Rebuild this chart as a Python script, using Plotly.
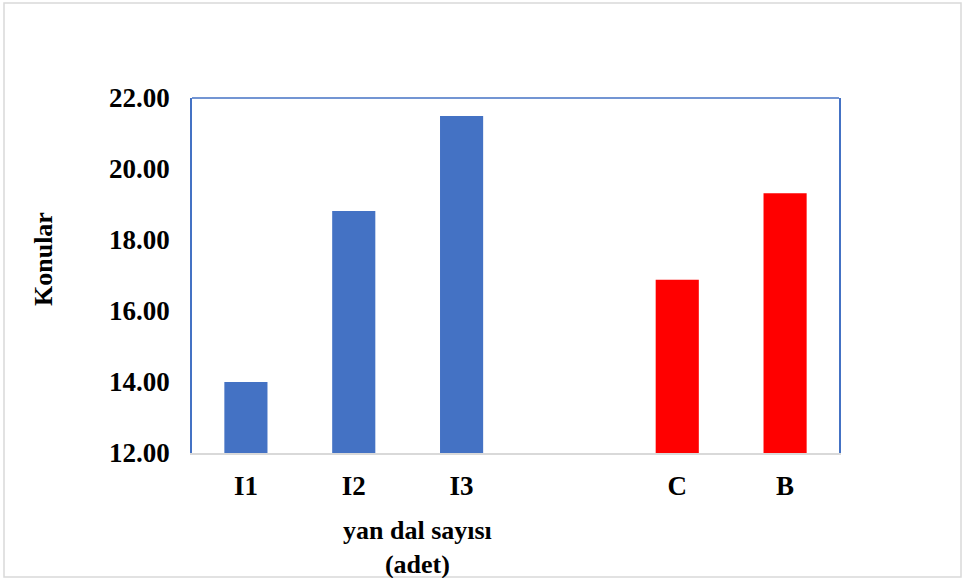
import plotly.graph_objects as go

# Category order along the x axis (one empty slot separates the two groups)
category_order = ["I1", "I2", "I3", " ", "C", "B"]

# Branch-count treatments
treat_labels = ["I1", "I2", "I3"]
treat_values = [14.00, 18.82, 21.49]

# Reference groups
ref_labels = ["C", "B"]
ref_values = [16.88, 19.32]

y_ticks = [12, 14, 16, 18, 20, 22]

W, H = 964, 578
ML, MR, MT, MB = 192, 125, 98, 125
PW, PH = W - ML - MR, H - MT - MB

BLUE = "#4472C4"
RED = "#FF0000"
FONT = "Liberation Serif"
FS = 27

fig = go.Figure()
fig.add_trace(go.Bar(x=treat_labels, y=treat_values, marker_color=BLUE,
                     marker_line_width=0, width=0.4, hoverinfo="x+y"))
fig.add_trace(go.Bar(x=ref_labels, y=ref_values, marker_color=RED,
                     marker_line_width=0, width=0.4, hoverinfo="x+y"))


def px_x(v):
    return (v - ML) / PW


def px_y(v):
    return 1 - (v - MT) / PH


fig.update_layout(
    width=W, height=H,
    margin=dict(l=ML, r=MR, t=MT, b=MB),
    paper_bgcolor="white", plot_bgcolor="white",
    barmode="overlay",
    showlegend=False,
    font=dict(family=FONT, color="black"),
    xaxis=dict(
        type="category", categoryorder="array", categoryarray=category_order,
        range=[-0.5, 5.5],
        showgrid=False, zeroline=False,
        showline=True, linecolor="#D9D9D9", linewidth=2,
        ticks="", ticklabelstandoff=8,
        tickfont=dict(family=FONT, size=FS, weight="bold", color="black"),
    ),
    yaxis=dict(
        range=[12, 22], tickvals=y_ticks, tickformat=".2f",
        showgrid=False, zeroline=False,
        showline=True, linecolor=BLUE, linewidth=1.5, mirror=True,
        ticks="", ticklabelstandoff=15,
        tickfont=dict(family=FONT, size=FS, weight="bold", color="black"),
    ),
    shapes=[
        # top edge of the plot frame
        dict(type="line", xref="paper", yref="paper", x0=0, x1=1, y0=1, y1=1,
             line=dict(color=BLUE, width=1.5)),
        # outer chart border
        dict(type="rect", xref="paper", yref="paper",
             x0=px_x(4), x1=px_x(961), y0=px_y(577), y1=px_y(3),
             line=dict(color="#D9D9D9", width=1.5), layer="below"),
    ],
    annotations=[
        dict(text="<b>yan dal sayısı</b><br><b>(adet)</b>", xref="paper", yref="paper",
             x=px_x(417), y=px_y(547), xanchor="center", yanchor="middle",
             showarrow=False, font=dict(family=FONT, size=FS - 1, color="black")),
        dict(text="<b>Konular</b>", xref="paper", yref="paper",
             x=px_x(43), y=px_y(259), xanchor="center", yanchor="middle",
             textangle=-90, showarrow=False,
             font=dict(family=FONT, size=FS - 1, color="black")),
    ],
)

fig.write_html("out.html")
